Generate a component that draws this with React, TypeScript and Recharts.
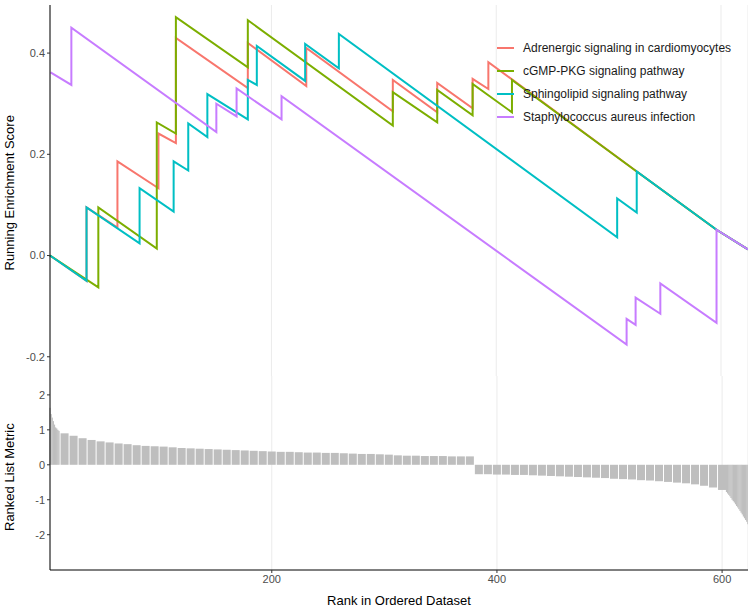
import { LineChart, Line, XAxis, YAxis, CartesianGrid, BarChart, Bar, ReferenceLine } from 'recharts';

// running enrichment score, [rank, score]
const adrenergic = [
  [3, 0], [35.5, -0.05], [35.5, 0.095], [63, 0.055], [63, 0.186], [99.5, 0.133], [99.5, 0.241],
  [115, 0.222], [115, 0.43], [179, 0.331], [179, 0.42], [231, 0.335], [231, 0.41], [308, 0.285],
  [308, 0.347], [347.5, 0.283], [347.5, 0.341], [379, 0.291], [379, 0.349], [393, 0.329],
  [393, 0.382], [414, 0.348], [525, 0.166], [596, 0.051], [624, 0.012],
];
const cgmp = [
  [3, 0], [46, -0.063], [46, 0.095], [98, 0.014], [98, 0.263], [115, 0.241], [115, 0.471],
  [179, 0.372], [179, 0.465], [308, 0.257], [308, 0.323], [347.5, 0.263], [347.5, 0.327],
  [379, 0.277], [379, 0.339], [414, 0.283], [414, 0.347], [525, 0.166], [596, 0.051], [624, 0.012],
];
const sphingo = [
  [3, 0], [35.5, -0.05], [35.5, 0.095], [82.7, 0.024], [82.7, 0.133], [113, 0.087], [113, 0.186],
  [126, 0.168], [126, 0.261], [143, 0.234], [143, 0.319], [179, 0.269], [179, 0.347], [187, 0.337],
  [187, 0.414], [230, 0.345], [230, 0.418], [260, 0.37], [260, 0.438], [507.6, 0.036],
  [507.6, 0.113], [525, 0.085], [525, 0.166], [596, 0.051], [624, 0.012],
];
const staph = [
  [3.5, 0.362], [22, 0.337], [22, 0.45], [151, 0.244], [151, 0.3], [169, 0.275], [169, 0.33],
  [209, 0.269], [209, 0.315], [516, -0.176], [516, -0.125], [524, -0.137], [524, -0.083],
  [546, -0.115], [546, -0.055], [596, -0.133], [596, 0.051], [624, 0.012],
];

const seriesNames = [
  'Adrenergic signaling in cardiomyocytes',
  'cGMP-PKG signaling pathway',
  'Sphingolipid signaling pathway',
  'Staphylococcus aureus infection',
];
const seriesColors = ['#F8766D', '#7CAE00', '#00BFC4', '#C77CFF'];
const seriesData = [adrenergic, cgmp, sphingo, staph];

// ranked list metric
const headMetric = [1.63, 1.45, 1.35, 1.25, 1.15, 1.07, 1.04, 1.0, 0.97]; // ranks 3..11
const bodyMetric = [
  0.9, 0.83, 0.76, 0.71, 0.67, 0.64, 0.61, 0.59, 0.56, 0.54, 0.53, 0.52, 0.5, 0.48, 0.47, 0.46,
  0.45, 0.44, 0.43, 0.42, 0.41, 0.4, 0.39, 0.38, 0.37, 0.37, 0.36, 0.35, 0.35, 0.34, 0.34, 0.33,
  0.32, 0.31, 0.31, 0.3, 0.29, 0.27, 0.26, 0.26, 0.25, 0.25, 0.25, 0.24, 0.24, 0.24,
  -0.27, -0.27, -0.28, -0.28, -0.29, -0.29, -0.3, -0.31, -0.32, -0.33, -0.34, -0.35, -0.36,
  -0.37, -0.38, -0.4, -0.41, -0.42, -0.44, -0.45, -0.47, -0.49, -0.51, -0.53, -0.56, -0.6, -0.65, -0.72,
]; // ranks 16, 24, ... step 8
const tailMetric = [
  -0.78, -0.82, -0.86, -0.9, -0.95, -1.0, -1.04, -1.08, -1.13, -1.18, -1.22, -1.27, -1.32,
  -1.37, -1.42, -1.48, -1.53, -1.58, -1.63, -1.7,
]; // ranks 604..623

const metricRows = [
  ...headMetric.map((v, i) => ({ rank: 3 + i, metric: v, w: 1 })),
  ...bodyMetric.map((v, i) => ({ rank: 16 + 8 * i, metric: v, w: 8 })),
  ...tailMetric.map((v, i) => ({ rank: 604 + i, metric: v, w: 1 })),
];

const X_DOMAIN: [number, number] = [3, 623];
const PX_PER_RANK = 698 / 620;
const font = 'Liberation Sans, Arial, sans-serif';
const tickStyle = { fill: '#4d4d4d', fontSize: 11, fontFamily: font };

const MetricBar = (props: any) => {
  const { x, y, width, height, payload } = props;
  const cx = x + width / 2;
  const w = payload.w === 1 ? PX_PER_RANK + 0.2 : payload.w * PX_PER_RANK - 1;
  const top = height < 0 ? y + height : y;
  return <rect x={cx - w / 2} y={top} width={w} height={Math.abs(height)} fill="#bebebe" />;
};

export default function App() {
  return (
    <div style={{ position: 'fixed', left: 0, top: 0, width: 748, height: 609, background: '#fff', fontFamily: font }}>
      <LineChart width={748} height={376} margin={{ top: 5, right: 0, bottom: 0, left: 0 }}>
        <CartesianGrid vertical horizontal={false} stroke="#ebebeb" />
        <XAxis type="number" dataKey="rank" domain={X_DOMAIN} ticks={[200, 400, 600]} hide allowDuplicatedCategory={false} />
        <YAxis
          type="number"
          domain={[-0.238, 0.495]}
          ticks={[-0.2, 0, 0.2, 0.4]}
          tickFormatter={(v: number) => v.toFixed(1)}
          width={50}
          tick={tickStyle}
          tickSize={3}
          axisLine={{ stroke: '#000' }}
          tickLine={{ stroke: '#333' }}
          label={{ value: 'Running Enrichment Score', angle: -90, position: 'insideLeft', dx: 4, dy: 80, style: { fill: '#000', fontSize: 13, fontFamily: font } }}
        />
        {seriesData.map((d, i) => (
          <Line
            key={seriesNames[i]}
            data={d.map(([rank, es]) => ({ rank, es }))}
            dataKey="es"
            type="linear"
            stroke={seriesColors[i]}
            strokeWidth={2}
            dot={false}
            isAnimationActive={false}
          />
        ))}
      </LineChart>
      <BarChart width={748} height={233} data={metricRows} margin={{ top: 0, right: 0, bottom: 0, left: 0 }} barSize={4}>
        <CartesianGrid vertical horizontal={false} stroke="#ebebeb" />
        <XAxis
          type="number"
          dataKey="rank"
          domain={X_DOMAIN}
          ticks={[200, 400, 600]}
          tick={tickStyle}
          tickSize={3}
          height={39}
          axisLine={{ stroke: '#000' }}
          tickLine={{ stroke: '#333' }}
          label={{ value: 'Rank in Ordered Dataset', position: 'insideBottom', offset: 4, style: { fill: '#000', fontSize: 13, fontFamily: font } }}
        />
        <YAxis
          type="number"
          domain={[-3.01, 2.54]}
          ticks={[-2, -1, 0, 1, 2]}
          width={50}
          tick={tickStyle}
          tickSize={3}
          axisLine={{ stroke: '#000' }}
          tickLine={{ stroke: '#333' }}
          label={{ value: 'Ranked List Metric', angle: -90, position: 'insideLeft', dx: 4, dy: 58, style: { fill: '#000', fontSize: 13, fontFamily: font } }}
        />
        <ReferenceLine y={0} stroke="transparent" />
        <Bar dataKey="metric" shape={<MetricBar />} isAnimationActive={false} />
      </BarChart>
      <div style={{ position: 'absolute', left: 497, top: 36 }}>
        {seriesNames.map((n, i) => (
          <div key={n} style={{ display: 'flex', alignItems: 'center', height: 23 }}>
            <div style={{ width: 17, height: 2, background: seriesColors[i], marginRight: 9 }} />
            <span style={{ fontSize: 12, color: '#1a1a1a' }}>{n}</span>
          </div>
        ))}
      </div>
    </div>
  );
}
